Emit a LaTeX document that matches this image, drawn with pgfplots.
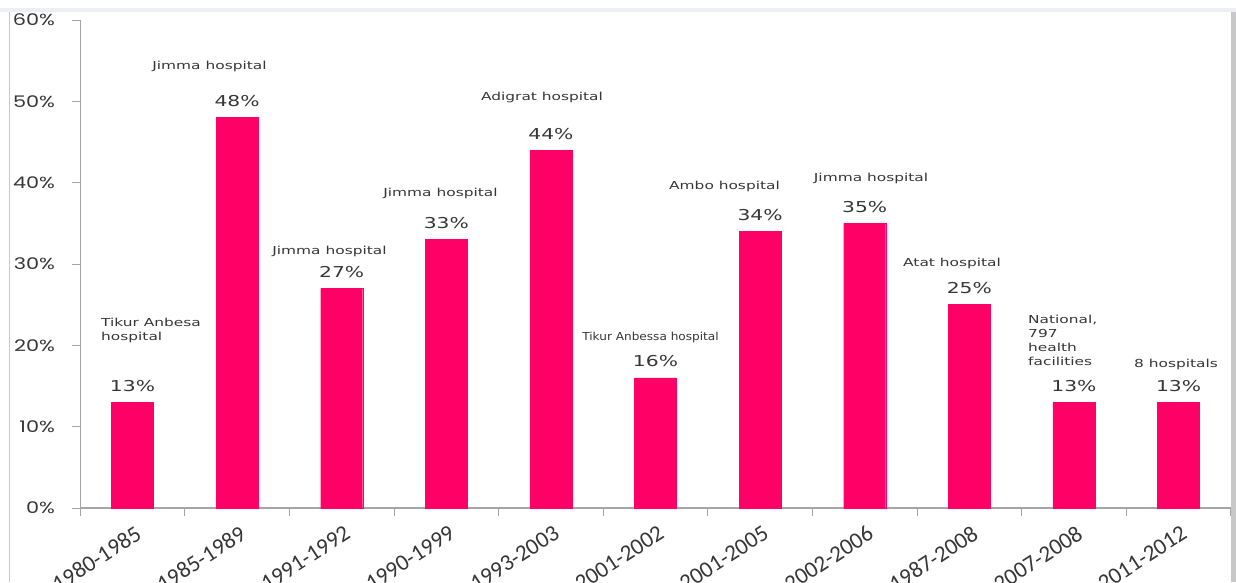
\documentclass[border=0pt]{standalone}
\usepackage{pgfplots}
\pgfplotsset{compat=1.18}
\usepackage{fontspec}
\usepackage{graphicx}
\setmainfont{DejaVu Sans}
\newfontfamily\carl{Carlito}
\newfontfamily\pop{Poppins}
\definecolor{barc}{RGB}{255,0,102}
\definecolor{txt}{RGB}{55,55,55}
\definecolor{axc}{RGB}{165,165,165}
\definecolor{band}{RGB}{236,239,244}
\definecolor{frm}{RGB}{200,200,200}
\newcommand{\ann}[2][1.4]{\scalebox{#1}[1]{\fontsize{11}{13}\selectfont #2}}
\begin{document}
\begin{tikzpicture}
\path[use as bounding box] (0,0) rectangle (1236pt,582pt);
\fill[white] (0,0) rectangle (1236pt,582pt);
\fill[band] (0,570pt) rectangle (1236pt,574pt);
\draw[frm, line width=1pt] (9.5pt,0) -- (9.5pt,570pt);
\fill[frm] (1231pt,0) rectangle (1236pt,570pt);
\begin{axis}[
  at={(80.2pt,74pt)}, anchor=south west,
  scale only axis, width=1150.6pt, height=488pt,
  xmin=-0.5, xmax=10.5, ymin=0, ymax=60,
  axis lines*=left,
  axis line style={draw=axc, line width=1.2pt},
  tick align=outside,
  major tick length=8pt, minor tick length=8pt,
  ytick={0,10,...,60},
  ytick style={draw=axc, line width=1pt},
  yticklabel={\scalebox{1.3}[1]{\pop\fontsize{16}{16}\selectfont\pgfmathprintnumber[assume math mode=true]{\tick}\%}},
  yticklabel style={anchor=east, inner sep=0pt, xshift=-17pt, text=txt},
  xtick={0,...,10},
  xticklabels={1980-1985,1985-1989,1991-1992,1990-1999,1993-2003,2001-2002,2001-2005,2002-2006,1987-2008,2007-2008,2011-2012},
  major x tick style={draw=none},
  minor xtick={-0.5,0.5,...,10.5},
  minor x tick style={draw=axc, line width=1pt},
  xticklabel style={rotate=33, anchor=north east, inner sep=0pt, font=\carl\fontsize{23}{23}\selectfont, text=txt, xshift=-3pt, yshift=-8pt},
  ybar, bar width=42pt,
  nodes near coords={\scalebox{1.35}[1]{\fontsize{15}{15}\selectfont\pgfmathprintnumber[assume math mode=true]{\pgfplotspointmeta}\%}},
  every node near coord/.append style={anchor=base, yshift=11pt, inner sep=0pt, text=txt},
  clip=false,
]
\addplot[fill=barc, draw=barc] coordinates {
  (0,13) (1,48) (2,27) (3,33) (4,44) (5,16) (6,34) (7,35) (8,25) (9,13) (10,13)};
\end{axis}
\begin{scope}[every node/.style={inner sep=0pt, text=txt}]
\node[anchor=base west] at (101pt,256pt) {\ann{Tikur Anbesa}};
\node[anchor=base west] at (101pt,242pt) {\ann{hospital}};
\node[anchor=base] at (209.5pt,512pt) {\ann{Jimma hospital}};
\node[anchor=base] at (329.5pt,328pt) {\ann{Jimma hospital}};
\node[anchor=base] at (440.5pt,385pt) {\ann{Jimma\ hospital}};
\node[anchor=base] at (542pt,481pt) {\ann{Adigrat hospital}};
\node[anchor=base] at (650.5pt,242pt) {\ann[1.1]{Tikur Anbessa hospital}};
\node[anchor=base] at (724.5pt,392pt) {\ann{Ambo hospital}};
\node[anchor=base] at (871pt,400pt) {\ann{Jimma hospital}};
\node[anchor=base west] at (903pt,316pt) {\ann{Atat hospital}};
\node[anchor=base west] at (1028pt,259pt) {\ann{National,}};
\node[anchor=base west] at (1028pt,245pt) {\ann{797}};
\node[anchor=base west] at (1028pt,231pt) {\ann{health}};
\node[anchor=base west] at (1028pt,217pt) {\ann{facilities}};
\node[anchor=base] at (1176pt,215pt) {\ann{8 hospitals}};
\end{scope}
\end{tikzpicture}
\end{document}
